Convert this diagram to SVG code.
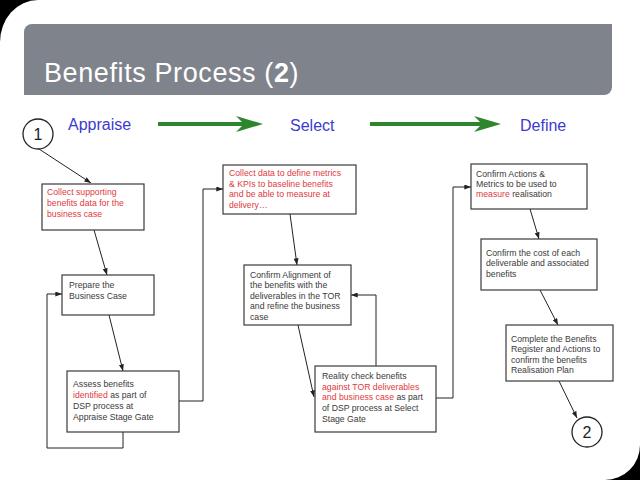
<svg xmlns="http://www.w3.org/2000/svg" width="640" height="480" viewBox="0 0 640 480">
<defs>
<style>
.box{fill:#fff;stroke:#3a3a3a;stroke-width:1.2}
.t{font-family:"Liberation Sans",Arial,sans-serif;font-size:8.7px;fill:#3a3a3a}
.r{fill:#e03a3e}
.ph{font-family:"Liberation Sans",Arial,sans-serif;font-size:16px;fill:#3b3bd0}
.c{fill:none;stroke:#222;stroke-width:1}
.circ{fill:#fff;stroke:#222;stroke-width:1.3}
.num{font-family:"Liberation Sans",Arial,sans-serif;font-size:16px;fill:#222;text-anchor:middle}
.g{stroke:#2d862d;stroke-width:4;fill:none}
</style>
<marker id="ah" viewBox="0 0 8 6" refX="8" refY="3" markerWidth="7" markerHeight="5" markerUnits="userSpaceOnUse" orient="auto">
<path d="M0,0 L8,3 L0,6 Z" fill="#222"/>
</marker>
</defs>
<rect width="640" height="480" fill="#000"/>
<path d="M38,0 H640 V445 A35,35 0 0 1 605,480 H0 V42 A38,42 0 0 1 38,0 Z" fill="#fff"/>
<path d="M32,24 H612 V87 A8,8 0 0 1 604,95 H24 V32 A8,8 0 0 1 32,24 Z" fill="#7f838c"/>
<text x="44" y="82" font-family="'Liberation Sans',Arial,sans-serif" font-size="27" letter-spacing="0.6" fill="#fff">Benefits Process (<tspan font-weight="bold">2</tspan>)</text>

<g id="phases">
<text class="ph" x="68" y="130">Appraise</text>
<text class="ph" x="290" y="131">Select</text>
<text class="ph" x="520" y="131">Define</text>
<line class="g" x1="158" y1="124" x2="245" y2="124"/>
<path d="M263,124 L236,116 L244,124 L236,132 Z" fill="#2d862d"/>
<line class="g" x1="370" y1="124" x2="484" y2="124"/>
<path d="M501,124 L474,116 L482,124 L474,132 Z" fill="#2d862d"/>
</g>

<g id="connectors">
<path class="c" d="M39,149 L91,183" marker-end="url(#ah)"/>
<path class="c" d="M94,230 L107,275" marker-end="url(#ah)"/>
<path class="c" d="M109,315 L123,371" marker-end="url(#ah)"/>
<path class="c" d="M123,432 V448 H47 V294 H62" marker-end="url(#ah)"/>
<path class="c" d="M179,401 H203 V189 H223" marker-end="url(#ah)"/>
<path class="c" d="M290,214 L297,265" marker-end="url(#ah)"/>
<path class="c" d="M298,325 L314,397" marker-end="url(#ah)"/>
<path class="c" d="M376,366 V295 H351" marker-end="url(#ah)"/>
<path class="c" d="M436,398 H453 V187 H471" marker-end="url(#ah)"/>
<path class="c" d="M530,209 L539,239" marker-end="url(#ah)"/>
<path class="c" d="M540,290 L558,325" marker-end="url(#ah)"/>
<path class="c" d="M559,381 L577,418" marker-end="url(#ah)"/>
</g>

<g id="start">
<circle class="circ" cx="38" cy="134" r="15"/>
<text class="num" x="38" y="140">1</text>
</g>
<g id="end">
<circle class="circ" cx="587" cy="432" r="15"/>
<text class="num" x="587" y="438">2</text>
</g>

<g id="n1">
<rect class="box" x="42" y="184" width="102" height="46"/>
<text class="t r" x="47" y="195">Collect supporting</text>
<text class="t r" x="47" y="206">benefits data for the</text>
<text class="t r" x="47" y="217">business case</text>
</g>
<g id="n2">
<rect class="box" x="62" y="275" width="92" height="40"/>
<text class="t" x="69" y="288">Prepare the</text>
<text class="t" x="69" y="299">Business Case</text>
</g>
<g id="n3">
<rect class="box" x="67" y="371" width="112" height="61"/>
<text class="t" x="73" y="387">Assess benefits</text>
<text class="t" x="73" y="398"><tspan class="r">identified</tspan> as part of</text>
<text class="t" x="73" y="409">DSP process at</text>
<text class="t" x="73" y="420">Appraise Stage Gate</text>
</g>
<g id="n4">
<rect class="box" x="223" y="165" width="133" height="49"/>
<text class="t r" x="229" y="176">Collect data to define metrics</text>
<text class="t r" x="229" y="187">&amp; KPIs to baseline benefits</text>
<text class="t r" x="229" y="197">and be able to measure at</text>
<text class="t r" x="229" y="208">delivery…</text>
</g>
<g id="n5">
<rect class="box" x="244" y="265" width="107" height="60"/>
<text class="t" x="250" y="278">Confirm Alignment of</text>
<text class="t" x="250" y="288">the benefits with the</text>
<text class="t" x="250" y="299">deliverables in the TOR</text>
<text class="t" x="250" y="309">and refine the business</text>
<text class="t" x="250" y="320">case</text>
</g>
<g id="n6">
<rect class="box" x="315" y="366" width="121" height="66"/>
<text class="t" x="322" y="379">Reality check benefits</text>
<text class="t r" x="322" y="390">against TOR deliverables</text>
<text class="t" x="322" y="400"><tspan class="r">and business case</tspan> as part</text>
<text class="t" x="322" y="411">of DSP process at Select</text>
<text class="t" x="322" y="422">Stage Gate</text>
</g>
<g id="n7">
<rect class="box" x="471" y="164" width="116" height="45"/>
<text class="t" x="476" y="177">Confirm Actions &amp;</text>
<text class="t" x="476" y="187">Metrics to be used to</text>
<text class="t" x="476" y="197"><tspan class="r">measure</tspan> realisation</text>
</g>
<g id="n8">
<rect class="box" x="481" y="239" width="116" height="51"/>
<text class="t" x="486" y="256">Confirm the cost of each</text>
<text class="t" x="486" y="266">deliverable and associated</text>
<text class="t" x="486" y="277">benefits</text>
</g>
<g id="n9">
<rect class="box" x="506" y="325" width="107" height="56"/>
<text class="t" x="511" y="342">Complete the Benefits</text>
<text class="t" x="511" y="352">Register and Actions to</text>
<text class="t" x="511" y="363">confirm the benefits</text>
<text class="t" x="511" y="373">Realisation Plan</text>
</g>
</svg>
